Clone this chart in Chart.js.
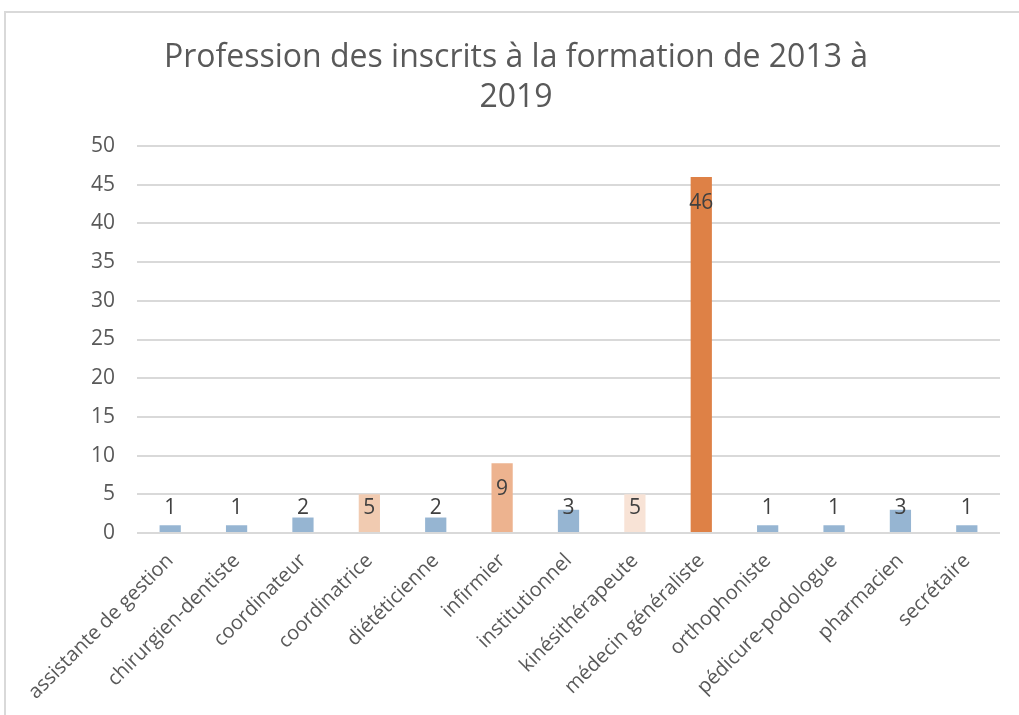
<!DOCTYPE html>
<html>
<head>
<meta charset="utf-8">
<script src="https://cdn.jsdelivr.net/npm/chart.js@4"></script>
<style>
  html, body { margin: 0; padding: 0; background: #fff; }
  #wrap { width: 1019px; height: 715px; position: relative; }
</style>
</head>
<body>
<div id="wrap"><canvas id="chart" width="1019" height="715"></canvas></div>
<script>
const categories = [
    "assistante de gestion", "chirurgien-dentiste", "coordinateur", "coordinatrice",
    "diététicienne", "infirmier", "institutionnel", "kinésithérapeute",
    "médecin généraliste", "orthophoniste", "pédicure-podologue", "pharmacien", "secrétaire"
];
const counts = [1, 1, 2, 5, 2, 9, 3, 5, 46, 1, 1, 3, 1];
const barColors = [
    "#96B5D2", "#96B5D2", "#96B5D2", "#F1CBB1", "#96B5D2", "#EDB38F", "#96B5D2",
    "#F8E3D6", "#DE8146", "#96B5D2", "#96B5D2", "#96B5D2", "#96B5D2"
];
const titleLines = ["Profession des inscrits à la formation de 2013 à", "2019"];

const FONT = "'Open Sans', sans-serif";

// light frame around the chart, like the Excel chart border
const framePlugin = {
    id: 'frame',
    beforeDraw(chart) {
        const ctx = chart.ctx;
        ctx.save();
        ctx.fillStyle = '#fff';
        ctx.fillRect(0, 0, chart.width, chart.height);
        ctx.strokeStyle = '#D9D9D9';
        ctx.lineWidth = 2;
        ctx.strokeRect(5, 12, 1100, 800);
        ctx.restore();
    }
};

// value labels: inside end, pushed above the bar when it is too short
const valueLabels = {
    id: 'valueLabels',
    afterDatasetsDraw(chart) {
        const ctx = chart.ctx;
        const meta = chart.getDatasetMeta(0);
        ctx.save();
        ctx.font = "21px " + FONT;
        ctx.fillStyle = '#404040';
        ctx.textAlign = 'center';
        ctx.textBaseline = 'middle';
        meta.data.forEach((bar, i) => {
            const y = Math.min(bar.y + 26, 508);
            ctx.fillText(counts[i], bar.x, y);
        });
        ctx.restore();
    }
};

const ctx = document.getElementById('chart').getContext('2d');
new Chart(ctx, {
    type: 'bar',
    data: {
        labels: categories,
        datasets: [{
            data: counts,
            backgroundColor: barColors,
            categoryPercentage: 1,
            barPercentage: 0.32
        }]
    },
    options: {
        responsive: false,
        animation: false,
        layout: { padding: { left: 32, right: 19, top: 0, bottom: 0 } },
        plugins: {
            legend: { display: false },
            tooltip: { enabled: false },
            title: {
                display: true,
                text: titleLines,
                color: '#595959',
                font: { family: FONT, size: 32, weight: 'normal', lineHeight: 1.25 },
                padding: { top: 38, bottom: 28 }
            }
        },
        scales: {
            x: {
                grid: { display: false },
                border: { display: false },
                ticks: {
                    color: '#595959',
                    font: { family: FONT, size: 20 },
                    minRotation: 45,
                    maxRotation: 45,
                    autoSkip: false,
                    padding: 8
                },
                afterFit(scale) { scale.height = 182; }
            },
            y: {
                min: 0,
                max: 50,
                grid: { color: '#D9D9D9', lineWidth: 2, drawTicks: false },
                border: { display: false },
                ticks: {
                    stepSize: 5,
                    color: '#595959',
                    font: { family: FONT, size: 21 },
                    padding: 22
                },
                afterFit(scale) { scale.width = 105; }
            }
        }
    },
    plugins: [framePlugin, valueLabels]
});
</script>
</body>
</html>
